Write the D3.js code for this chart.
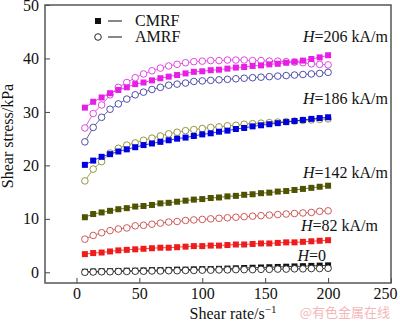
<!DOCTYPE html>
<html>
<head>
<meta charset="utf-8">
<script src="https://cdnjs.cloudflare.com/ajax/libs/d3/7.8.5/d3.min.js"></script>
<style>
body{margin:0;background:#fff}
text{font-family:"Liberation Serif","Times New Roman",serif;fill:#111}
.tick text{font-size:16px}
.wm{font-family:"Noto Sans CJK SC",sans-serif;fill:#f2b8b8;font-size:13px}
</style>
</head>
<body>
<svg id="chart" width="400" height="322"></svg>
<script>
// shear rate, s^-1
let rates = [6.7, 13.3, 20, 26.7, 33.3, 40, 46.7, 53.3, 60, 66.7, 73.3, 80, 86.7, 93.3, 100,
             106.7, 113.3, 120, 126.7, 133.3, 140, 146.7, 153.3, 160, 166.7, 173.3, 180, 186.7, 193.3, 200]
let xTicks = [0, 50, 100, 150, 200, 250]
let yTicks = [0, 10, 20, 30, 40, 50]

// shear stress, kPa
let cmrf206 = [30.8, 31.9, 32.7, 33.5, 34.1, 34.6, 35.2, 35.5, 35.9, 36.3, 36.6, 36.9, 37.2, 37.5, 37.6,
               37.8, 37.9, 38.1, 38.3, 38.4, 38.6, 38.7, 38.9, 39.0, 39.2, 39.4, 39.6, 39.9, 40.2, 40.6]
let amrf206 = [27.0, 29.7, 31.3, 33.2, 34.6, 35.5, 36.4, 37.1, 37.7, 38.2, 38.6, 38.9, 39.2, 39.4, 39.5,
               39.6, 39.6, 39.7, 39.7, 39.7, 39.6, 39.6, 39.5, 39.5, 39.4, 39.3, 39.2, 39.0, 38.9, 38.8]
let amrf186 = [24.4, 27.1, 29.0, 30.5, 31.5, 32.4, 33.2, 33.7, 34.2, 34.6, 35.0, 35.2, 35.4, 35.7, 35.8,
               35.9, 36.0, 36.1, 36.2, 36.3, 36.4, 36.5, 36.6, 36.7, 36.8, 36.9, 37.0, 37.1, 37.2, 37.4]
let cmrf186 = [20.1, 20.9, 21.6, 22.1, 22.6, 23.0, 23.4, 23.8, 24.1, 24.4, 24.7, 25.0, 25.2, 25.5, 25.8,
               26.0, 26.3, 26.5, 26.8, 27.0, 27.3, 27.5, 27.7, 27.9, 28.1, 28.3, 28.5, 28.7, 28.85, 29.0]
let amrf142 = [17.1, 19.3, 20.7, 22.3, 23.2, 23.8, 24.2, 24.7, 25.1, 25.5, 25.9, 26.2, 26.5, 26.7, 26.9,
               27.1, 27.2, 27.4, 27.5, 27.7, 27.8, 27.9, 28.0, 28.1, 28.2, 28.3, 28.4, 28.5, 28.6, 28.7]
let cmrf142 = [10.3, 10.9, 11.2, 11.5, 11.8, 12.0, 12.3, 12.4, 12.6, 12.9, 13.0, 13.2, 13.4, 13.6, 13.7,
               13.9, 14.0, 14.2, 14.3, 14.5, 14.6, 14.8, 14.9, 15.1, 15.2, 15.4, 15.6, 15.8, 16.0, 16.2]
let amrf82 = [6.2, 6.9, 7.4, 7.8, 8.1, 8.3, 8.7, 8.8, 9.0, 9.2, 9.4, 9.5, 9.7, 9.8, 9.9,
              10.0, 10.1, 10.2, 10.3, 10.4, 10.5, 10.6, 10.7, 10.8, 10.9, 11.0, 11.1, 11.2, 11.4, 11.5]
let cmrf82 = [3.4, 3.6, 3.7, 3.9, 4.1, 4.2, 4.3, 4.4, 4.5, 4.6, 4.6, 4.7, 4.8, 4.9, 4.9,
              5.0, 5.0, 5.1, 5.2, 5.2, 5.3, 5.4, 5.4, 5.5, 5.6, 5.6, 5.7, 5.8, 5.9, 6.0]
let cmrf0 = [0.1, 0.15, 0.2, 0.2, 0.25, 0.3, 0.3, 0.35, 0.4, 0.4, 0.45, 0.5, 0.5, 0.55, 0.6,
             0.6, 0.65, 0.7, 0.75, 0.8, 0.85, 0.9, 0.95, 1.0, 1.05, 1.1, 1.15, 1.2, 1.25, 1.3]
let amrf0 = [0.0, 0.05, 0.1, 0.1, 0.15, 0.15, 0.2, 0.2, 0.25, 0.25, 0.3, 0.3, 0.35, 0.35, 0.4,
             0.4, 0.45, 0.45, 0.5, 0.5, 0.5, 0.55, 0.55, 0.6, 0.6, 0.65, 0.65, 0.7, 0.7, 0.75]

// field labels: text, right edge x, baseline y
let labels = [["206 kA/m", 388, 42], ["186 kA/m", 388, 104], ["142 kA/m", 388, 178],
              ["82 kA/m", 378, 231], ["0", 326, 261]]

let series = [
    {v: amrf206, c: "#dd33dd", m: "o"},
    {v: cmrf206, c: "#e61ee6", m: "s"},
    {v: amrf186, c: "#3c3c9c", m: "o"},
    {v: amrf142, c: "#8a8a30", m: "o"},
    {v: cmrf186, c: "#0000dd", m: "s"},
    {v: cmrf142, c: "#4f5200", m: "s"},
    {v: amrf82,  c: "#c84848", m: "o"},
    {v: cmrf82,  c: "#ee1c1c", m: "s"},
    {v: cmrf0,   c: "#111111", m: "s"},
    {v: amrf0,   c: "#222222", m: "o"}
]

let svg = d3.select("#chart")
let xScale = d3.scaleLinear().domain([-25, 250]).range([45, 391])
let yScale = d3.scaleLinear().domain([-2, 50]).range([283, 5])

// axes, ticks pointing inward
svg.append("g").attr("class", "axis xaxis")
    .attr("transform", `translate(0,${283})`)
    .call(d3.axisBottom(xScale).tickValues(xTicks).tickSizeInner(-5).tickSizeOuter(0).tickPadding(5))
svg.append("g").attr("class", "axis")
    .attr("transform", `translate(${45},0)`)
    .call(d3.axisLeft(yScale).tickValues(yTicks).tickSizeInner(-5).tickSizeOuter(0).tickPadding(6))
svg.selectAll(".axis").attr("font-family", "Liberation Serif, serif")
svg.selectAll(".axis .domain").remove()
svg.selectAll(".axis line").attr("stroke", "#444")
svg.selectAll(".axis text").attr("fill", "#111")
// last x label sits a bit left of its tick, as in the original
svg.selectAll(".xaxis .tick text").filter(d => d == 250).attr("dx", -6)

// frame
svg.append("rect").attr("x", 45).attr("y", 5).attr("width", 346).attr("height", 278)
    .attr("fill", "none").attr("stroke", "#555").attr("stroke-width", 1.5)

let line = d3.line().x((d, i) => xScale(rates[i])).y(d => yScale(d))

series.forEach(function (s) {
    let g = svg.append("g")
    g.append("path").attr("d", line(s.v)).attr("fill", "none")
        .attr("stroke", s.c).attr("stroke-width", 0.8)
    if (s.m == "s") {
        g.selectAll("rect").data(s.v).enter().append("rect")
            .attr("x", (d, i) => xScale(rates[i]) - 3)
            .attr("y", d => yScale(d) - 3)
            .attr("width", 6).attr("height", 6)
            .attr("fill", s.c)
    } else {
        g.selectAll("circle").data(s.v).enter().append("circle")
            .attr("cx", (d, i) => xScale(rates[i]))
            .attr("cy", d => yScale(d))
            .attr("r", 3.3)
            .attr("fill", "#fff").attr("stroke", s.c).attr("stroke-width", 0.9)
    }
})

// H labels
labels.forEach(function (d) {
    let t = svg.append("text").attr("x", d[1]).attr("y", d[2])
        .attr("text-anchor", "end").style("font-size", "16px")
    t.append("tspan").style("font-style", "italic").text("H")
    t.append("tspan").text("=" + d[0])
})

// legend
let lg = svg.append("g")
lg.append("rect").attr("x", 95).attr("y", 18).attr("width", 6).attr("height", 6).attr("fill", "#111")
lg.append("line").attr("x1", 108).attr("x2", 122).attr("y1", 21).attr("y2", 21).attr("stroke", "#111")
lg.append("text").attr("x", 135).attr("y", 26).style("font-size", "16px").text("CMRF")
lg.append("circle").attr("cx", 98).attr("cy", 37).attr("r", 3.3).attr("fill", "#fff").attr("stroke", "#111").attr("stroke-width", 0.9)
lg.append("line").attr("x1", 108).attr("x2", 122).attr("y1", 37).attr("y2", 37).attr("stroke", "#111")
lg.append("text").attr("x", 135).attr("y", 42).style("font-size", "16px").text("AMRF")

// axis titles
let xt = svg.append("text").attr("x", 233).attr("y", 319).attr("text-anchor", "middle").style("font-size", "16px")
xt.append("tspan").text("Shear rate/s")
xt.append("tspan").attr("dy", -6).style("font-size", "11px").text("−1")
svg.append("text").attr("transform", `translate(${13},${136}) rotate(-90)`)
    .attr("text-anchor", "middle").style("font-size", "16px").text("Shear stress/kPa")

svg.append("text").attr("class", "wm").attr("x", 390).attr("y", 317).attr("text-anchor", "end").text("@有色金属在线")
</script>
</body>
</html>
